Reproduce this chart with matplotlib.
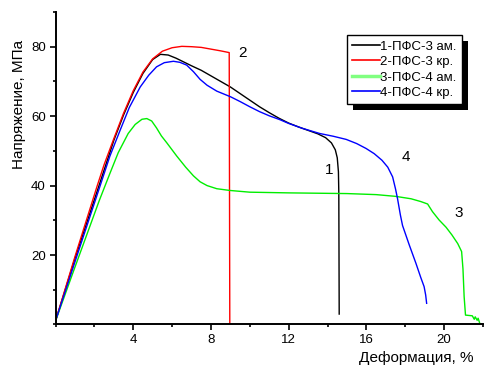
import matplotlib
matplotlib.use("Agg")
import matplotlib.pyplot as plt
from matplotlib.patches import Rectangle
from matplotlib.lines import Line2D
from matplotlib.ticker import MultipleLocator

plt.rcParams['font.family'] = ['Liberation Sans', 'DejaVu Sans']

# Series 1: ПФС-3 ам. (black)
x1 = [0, 1.0, 2.24, 3.0, 3.5, 4.0, 4.5, 5.0, 5.4, 5.8, 6.2, 6.6, 7.0, 7.5, 8.0, 8.5,
      9.0, 9.5, 10.0, 10.5, 11.0, 11.5, 12.0, 12.5, 13.0, 13.5, 13.9, 14.2, 14.4,
      14.5, 14.56, 14.58, 14.6]
y1 = [1, 19, 40, 53, 60.3, 66.8, 72.3, 76.3, 77.8, 77.6, 76.7, 75.6, 74.5, 73.2, 71.6, 70.0,
      68.4, 66.5, 64.6, 62.7, 61.0, 59.4, 58.0, 56.9, 55.9, 54.9, 53.8, 52.3, 50.3,
      48, 44, 38, 3]

# Series 2: ПФС-3 кр. (red)
x2 = [0, 1.0, 2.15, 2.5, 3.0, 3.5, 4.0, 4.5, 5.0, 5.5, 6.0, 6.5, 7.0, 7.5, 8.0, 8.5,
      8.94, 8.97]
y2 = [1, 19.5, 40, 46, 53.5, 60.8, 67.3, 72.7, 76.5, 78.7, 79.7, 80.1, 80.0, 79.8, 79.3,
      78.8, 78.3, 0]

# Series 3: ПФС-4 ам. (green)
x3 = [0, 1.0, 2.26, 2.8, 3.23, 3.74, 4.1, 4.45, 4.7, 4.95, 5.2, 5.45, 5.73, 6.24, 6.7,
      7.1, 7.44, 7.8, 8.3, 8.97, 10.0, 12.0, 15.0, 16.5, 17.5, 18.3, 18.8, 19.15, 19.4,
      19.74, 20.1, 20.4, 20.7, 20.9, 20.97, 21.03, 21.1, 21.45, 21.55, 21.6, 21.7,
      21.75, 21.83]
y3 = [1, 16.5, 35.8, 43.5, 49.5, 55, 57.6, 59.1, 59.3, 58.6, 56.6, 54.3, 52.3, 48.5, 45.3,
      42.8, 41.1, 40.0, 39.1, 38.6, 38.1, 37.9, 37.7, 37.4, 36.9, 36.2, 35.4, 34.7, 32.5,
      30.1, 28.0, 25.8, 23.3, 21, 16, 8, 2.7, 2.5, 1.5, 2.2, 1.2,
      1.8, 0.4]

# Series 4: ПФС-4 кр. (blue)
x4 = [0, 1.0, 2.3, 2.8, 3.33, 3.8, 4.36, 4.8, 5.2, 5.6, 6.07, 6.4, 6.75, 7.1, 7.44, 7.8,
      8.3, 9.0, 9.5, 10.0, 10.5, 11.0, 11.54, 12.0, 12.7, 13.6, 14.3, 14.96, 15.5,
      15.98, 16.4, 16.8, 17.1, 17.35, 17.5, 17.6, 17.75, 17.86, 18.2, 18.55, 18.8,
      18.97, 19.05, 19.1]
y4 = [1, 18, 40, 48.5, 56, 62.5, 68.4, 71.8, 74.2, 75.4, 75.8, 75.5, 74.7, 72.8, 70.6, 68.9,
      67.2, 65.6, 64.2, 62.7, 61.3, 60.1, 59.0, 57.9, 56.5, 55.0, 54.2, 53.3, 52.1,
      50.7, 49.2, 47.3, 45.3, 42.5, 39.0, 36.3, 31.5, 28.5, 23, 17.6, 13.5,
      10.9, 8.5, 6.1]

labels = ['1-ПФС-3 ам.', '2-ПФС-3 кр.', '3-ПФС-4 ам.', '4-ПФС-4 кр.']
curve_numbers = ['1', '2', '3', '4']
number_pos_x = [14.1, 9.6, 20.77, 18.05]
number_pos_y = [44.5, 78.1, 32.1, 48.2]

fig = plt.figure(figsize=(4.86, 3.74), dpi=100)
ax = fig.add_axes([0.1142, 0.1324, 0.8796, 0.8356])

colors = ['black', '#ff0000', '#00ee00', '#0000ff']
series = [(x1, y1), (x2, y2), (x3, y3), (x4, y4)]
for (xs, ys), c in zip(series, colors):
    ax.plot(xs, ys, color=c, lw=1.0)

for t, xx, yy in zip(curve_numbers, number_pos_x, number_pos_y):
    ax.text(xx, yy, t, fontsize=11, ha='center', va='center')

ax.set_xlim(0, 22)
ax.set_ylim(0, 90)
ax.xaxis.set_minor_locator(MultipleLocator(2))
ax.yaxis.set_minor_locator(MultipleLocator(10))
ax.set_xticks([4, 8, 12, 16, 20])
ax.set_yticks([20, 40, 60, 80])
for s in ['top', 'right']:
    ax.spines[s].set_visible(False)
for s in ['left', 'bottom']:
    ax.spines[s].set_linewidth(1.4)
ax.tick_params(which='major', direction='out', length=4, width=1.2, labelsize=9.5, pad=3)
ax.tick_params(which='minor', direction='out', length=2.5, width=1.2)

fig.text(0.04, 0.72, 'Напряжение, МПа', rotation=90, fontsize=11, ha='center', va='center')
fig.text(0.975, 0.024, 'Деформация, %', fontsize=11, ha='right', va='bottom')

handles = [Line2D([], [], color='black', lw=1.2),
           Line2D([], [], color='#ff0000', lw=1.2),
           Line2D([], [], color='#80ff80', lw=2.5),
           Line2D([], [], color='#0000ff', lw=1.2)]
leg = ax.legend(handles, labels, loc='upper left',
                bbox_to_anchor=(347 / 486, 1 - 35 / 374), bbox_transform=fig.transFigure,
                fancybox=False, frameon=True, edgecolor='black', framealpha=1,
                fontsize=9.5, handlelength=2.1, handletextpad=0.0, labelspacing=0.25,
                borderpad=0.4, borderaxespad=0)
leg.get_frame().set_linewidth(1.0)
leg.set_zorder(6)

fig.canvas.draw()
bb = leg.get_window_extent()
sh = Rectangle((bb.x0 + 6, bb.y0 - 6), bb.width, bb.height, transform=None,
               facecolor='black', edgecolor='none', zorder=5.5, clip_on=False)
ax.add_patch(sh)

fig.savefig('out.png', dpi=100)
